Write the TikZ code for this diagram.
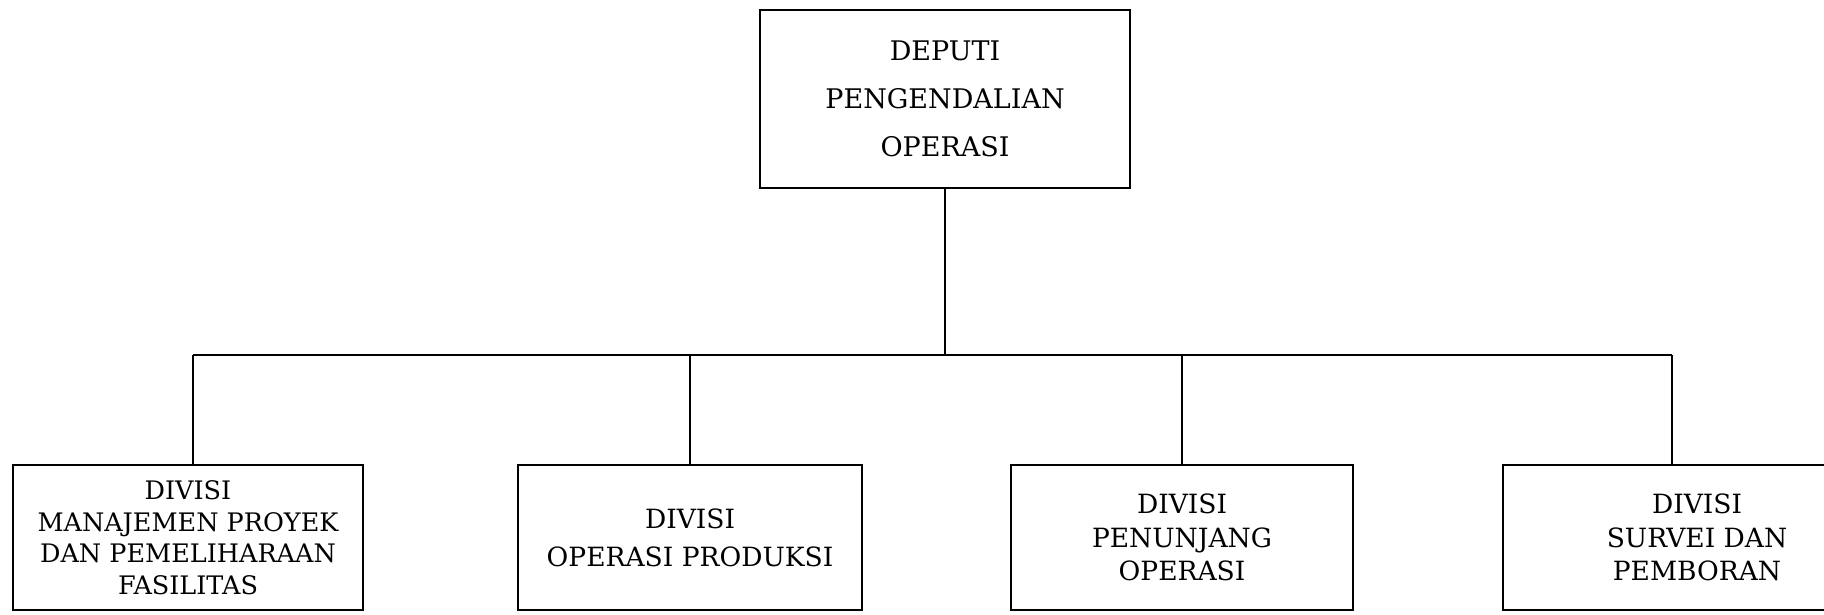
\documentclass[tikz,border=0pt]{standalone}
\usepackage{fontspec}
\setmainfont{DejaVu Serif}
\usetikzlibrary{positioning}
\tikzset{
  unit/.style={draw, line width=1.6pt, align=center, inner sep=0pt},
  topunit/.style={unit, minimum width=370pt, minimum height=178pt,
    font=\fontsize{27}{48}\selectfont},
  divunit/.style={unit, minimum height=145pt,
    font=\fontsize{26.5}{33.5}\selectfont},
  link/.style={line width=1.6pt}
}
\begin{document}
\begin{tikzpicture}[x=1pt, y=1pt]
    \useasboundingbox (0,0) rectangle (1824,614);
    \clip (0,0) rectangle (1824,614);
    % We start by placing the blocks
    \node[topunit] (dep) at (945,515) {DEPUTI\\PENGENDALIAN\\OPERASI};

    \node[divunit, minimum width=350pt, font=\fontsize{25.5}{31.5}\selectfont]
      (mpf) at (188,76.5)
      {DIVISI\\MANAJEMEN PROYEK\\DAN PEMELIHARAAN\\FASILITAS};
    \node[divunit, minimum width=344pt, font=\fontsize{26.5}{38}\selectfont]
      (opr) at (690,76.5)
      {DIVISI\\OPERASI PRODUKSI};
    \node[divunit, minimum width=342pt] (pnj) at (1182,76.5)
      {DIVISI\\PENUNJANG\\OPERASI};
    \node[divunit, minimum width=388pt] (sdp) at (1697,76.5)
      {DIVISI\\SURVEI DAN\\PEMBORAN};

    % then the bus between them
    \coordinate (busl) at (193,259);
    \coordinate (busr) at (1672,259);

    \draw[link] (busl) -- (busr);
    \draw[link] (dep.south) -- (dep.south |- busl);
    \draw[link] (busl) -- (busl |- mpf.north);
    \draw[link] (opr.north) -- (opr.north |- busl);
    \draw[link] (pnj.north) -- (pnj.north |- busl);
    \draw[link] (busr) -- (busr |- sdp.north);
\end{tikzpicture}
\end{document}
